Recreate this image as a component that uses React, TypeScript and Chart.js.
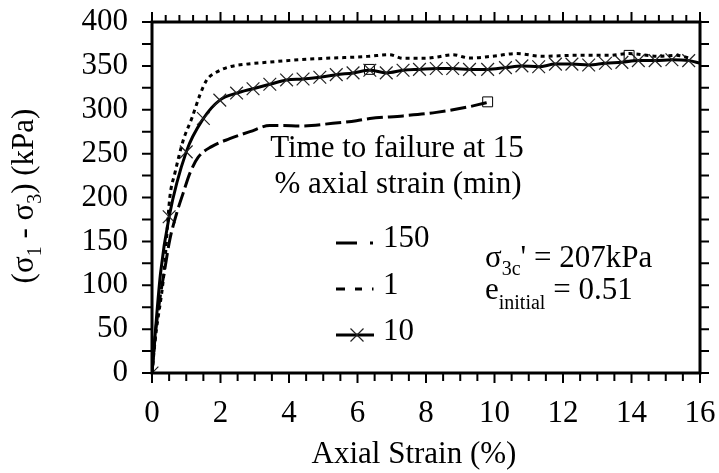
import React, { useEffect, useRef } from 'react';
import { Chart, registerables } from 'chart.js';

Chart.register(...registerables);

const FONT = '"Liberation Serif", "Times New Roman", Times, serif';

// Time to failure 150 min (dashed)
const strain150 = [0, 0.1, 0.25, 0.38, 0.52, 0.72, 0.91, 1.11, 1.35, 1.74, 2.27, 2.86, 3.44, 3.83, 4.3, 5.28, 5.97, 6.36, 7.33, 8.3, 9.27, 9.76, 9.9];
const stress150 = [0, 45, 90, 120, 152, 182, 205, 228, 246, 258, 267, 275, 282, 282, 281.5, 284.5, 287.5, 290, 293, 297, 303.5, 308, 309];

// Time to failure 1 min (dotted)
const strain1 = [0, 0.1, 0.35, 0.52, 0.67, 0.91, 1.16, 1.4, 1.6, 1.89, 2.27, 2.76, 3.34, 4.3, 5.28, 5.97, 6.36, 6.94, 7.33, 8.0, 8.3, 8.78, 9.27, 9.95, 10.63, 11.4, 12.38, 13.35, 13.94, 14.8, 15.3, 15.7];
const stress1 = [0, 40, 114, 200, 228, 265, 290, 317, 334, 343, 349, 352, 354, 357, 359, 360, 361, 362.7, 358.6, 358.6, 360, 362.7, 359, 361, 364, 361, 362, 362, 364, 361, 362, 359];

// Time to failure 10 min (solid with x markers)
const strain10 = [0, 0.25, 0.5, 1.0, 1.5, 1.98, 2.47, 2.95, 3.44, 3.93, 4.41, 4.9, 5.38, 5.87, 6.36, 6.84, 7.33, 7.81, 8.3, 8.78, 9.27, 9.8, 10.32, 10.8, 11.29, 11.78, 12.26, 12.75, 13.24, 13.72, 14.2, 14.69, 15.18, 15.67, 16];
const stress10 = [0, 114, 178, 252, 290, 311, 319, 324, 329, 334, 335, 337, 340, 342, 345, 342, 345, 346, 347, 347, 346, 346, 348, 350, 349, 352, 352, 351, 353, 354, 356, 356, 357, 356, 353];
const unmarked10 = [0.25, 16];

// Failure points (squares)
const failureStrain = [6.35, 9.8, 13.93];
const failureStress = [346, 309, 362];

const legendLabels = ['150', '1', '10'];
const legendTitle = ['Time to failure at 15', '% axial strain (min)'];
const xTitle = 'Axial Strain (%)';

const pts = (xs: number[], ys: number[]) => xs.map((x, i) => ({ x, y: ys[i] }));

type Part = [string, number, number];

function richWidth(ctx: CanvasRenderingContext2D, parts: Part[]) {
  let w = 0;
  for (const [t, s] of parts) {
    ctx.font = `${s}px ${FONT}`;
    w += ctx.measureText(t).width;
  }
  return w;
}

function drawRich(ctx: CanvasRenderingContext2D, x: number, y: number, parts: Part[]) {
  let cx = x;
  for (const [t, s, dy] of parts) {
    ctx.font = `${s}px ${FONT}`;
    ctx.fillText(t, cx, y + dy);
    cx += ctx.measureText(t).width;
  }
}

const decor = {
  id: 'decor',
  afterDatasetsDraw(chart: any) {
    const { ctx, chartArea: a, scales } = chart;
    const xs = scales.x;
    const ys = scales.y;
    ctx.save();
    ctx.strokeStyle = '#000';
    ctx.fillStyle = '#000';
    ctx.lineWidth = 2;
    ctx.setLineDash([]);
    ctx.beginPath();
    for (let i = 0; i <= 32; i++) {
      const px = xs.getPixelForValue(i * 0.5);
      const len = i % 4 === 0 ? 10 : 8;
      ctx.moveTo(px, a.bottom);
      ctx.lineTo(px, a.bottom + len);
    }
    for (let i = 0; i <= 40; i++) {
      const px = xs.getPixelForValue(i * 0.4);
      const len = i % 5 === 0 ? 10 : 7;
      ctx.moveTo(px, a.top);
      ctx.lineTo(px, a.top - len);
    }
    for (let i = 0; i <= 16; i++) {
      const py = ys.getPixelForValue(i * 25);
      ctx.moveTo(a.left, py);
      ctx.lineTo(a.left - 10, py);
      ctx.moveTo(a.right, py);
      ctx.lineTo(a.right + 9, py);
    }
    ctx.stroke();
    ctx.lineWidth = 3;
    ctx.strokeRect(a.left, a.top, a.right - a.left, a.bottom - a.top);

    // Legend samples
    ctx.lineWidth = 3;
    ctx.beginPath();
    ctx.moveTo(336, 243); ctx.lineTo(357, 243);
    ctx.moveTo(370, 243); ctx.lineTo(373, 243);
    ctx.moveTo(336, 289); ctx.lineTo(345, 289);
    ctx.moveTo(355, 289); ctx.lineTo(362, 289);
    ctx.moveTo(372, 289); ctx.lineTo(373.5, 289);
    ctx.moveTo(336, 335); ctx.lineTo(374, 335);
    ctx.stroke();
    ctx.lineWidth = 1.2;
    ctx.strokeStyle = '#222';
    ctx.beginPath();
    ctx.moveTo(350.5, 328.5); ctx.lineTo(363.5, 341.5);
    ctx.moveTo(350.5, 341.5); ctx.lineTo(363.5, 328.5);
    ctx.stroke();

    ctx.textBaseline = 'alphabetic';
    ctx.font = `31px ${FONT}`;
    ctx.textAlign = 'left';
    ctx.fillText(legendLabels[0], 383, 247);
    ctx.fillText(legendLabels[1], 383, 294);
    ctx.fillText(legendLabels[2], 383, 340);
    ctx.textAlign = 'center';
    ctx.fillText(legendTitle[0], 397, 157);
    ctx.fillText(legendTitle[1], 398, 193);
    ctx.fillText(xTitle, 414, 463);

    ctx.textAlign = 'left';
    drawRich(ctx, 485, 267, [['σ', 31, 0], ['3c', 20, 8], ["' = 207kPa", 31, 0]]);
    drawRich(ctx, 485, 299, [['e', 31, 0], ['initial', 20, 10], [' = 0.51', 31, 0]]);

    // Y title
    const yParts: Part[] = [['(σ', 31, 0], ['1', 20, 8], [' - σ', 31, 0], ['3', 20, 8], [') (kPa)', 31, 0]];
    ctx.save();
    ctx.translate(33, 196);
    ctx.rotate(-Math.PI / 2);
    const w = richWidth(ctx, yParts);
    drawRich(ctx, -w / 2, 0, yParts);
    ctx.restore();

    ctx.restore();
  },
};

export default function App() {
  const ref = useRef<HTMLCanvasElement | null>(null);
  useEffect(() => {
    if (!ref.current) return;
    const chart = new Chart(ref.current, {
      type: 'line',
      data: {
        datasets: [
          {
            label: legendLabels[0],
            data: pts(strain150, stress150),
            borderColor: '#000',
            borderWidth: 3,
            borderDash: [16, 5],
            pointRadius: 0,
            cubicInterpolationMode: 'monotone',
            fill: false,
          },
          {
            label: legendLabels[1],
            data: pts(strain1, stress1),
            borderColor: '#000',
            borderWidth: 3,
            borderDash: [4, 4],
            pointRadius: 0,
            cubicInterpolationMode: 'monotone',
            fill: false,
          },
          {
            label: legendLabels[2],
            data: pts(strain10, stress10),
            borderColor: '#000',
            borderWidth: 3,
            pointStyle: 'crossRot',
            pointRadius: strain10.map((s) => (unmarked10.includes(s) ? 0 : 9)),
            pointBorderColor: '#222',
            pointBorderWidth: 1.2,
            cubicInterpolationMode: 'monotone',
            fill: false,
          },
          {
            label: 'failure',
            data: pts(failureStrain, failureStress),
            showLine: false,
            pointStyle: 'rect',
            pointRadius: 7,
            pointBorderColor: '#000',
            pointBorderWidth: 1,
            pointBackgroundColor: 'rgba(0,0,0,0)',
            borderColor: '#000',
          },
        ],
      } as any,
      options: {
        animation: false,
        responsive: false,
        layout: { padding: { top: 22, right: 19, left: 0, bottom: 0 } },
        plugins: { legend: { display: false }, tooltip: { enabled: false } },
        scales: {
          x: {
            type: 'linear',
            position: 'bottom',
            min: 0,
            max: 16,
            ticks: { stepSize: 2, color: '#000', font: { family: FONT, size: 31 }, padding: 22, maxRotation: 0, autoSkip: false },
            grid: { display: false, drawTicks: false },
            border: { display: false },
            afterFit: (s: any) => { s.height = 100; s.paddingLeft = 0; s.paddingRight = 0; },
          },
          y: {
            type: 'linear',
            min: 0,
            max: 400,
            ticks: { stepSize: 50, color: '#000', font: { family: FONT, size: 31 }, padding: 24 },
            grid: { display: false, drawTicks: false },
            border: { display: false },
            afterFit: (s: any) => { s.width = 152; s.paddingTop = 0; s.paddingBottom = 0; },
          },
        },
      } as any,
      plugins: [decor],
    });
    return () => chart.destroy();
  }, []);
  return (
    <div style={{ position: 'absolute', left: 0, top: 0, width: 719, height: 473, background: '#fff' }}>
      <canvas ref={ref} width={719} height={473} style={{ display: 'block' }} />
    </div>
  );
}
